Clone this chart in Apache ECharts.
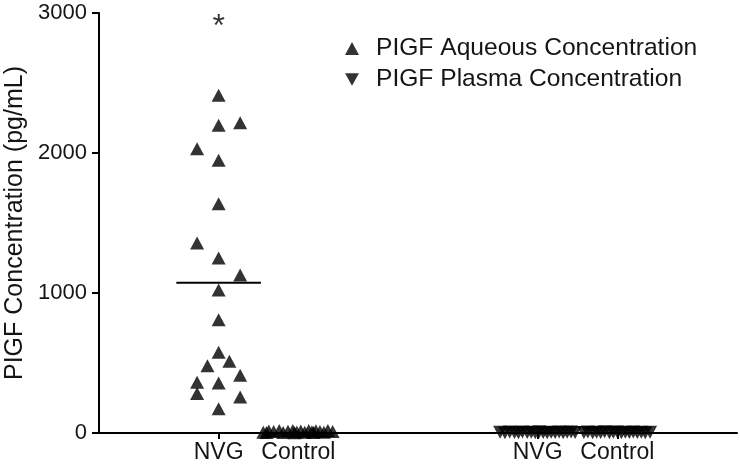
<!DOCTYPE html>
<html>
<head>
<meta charset="utf-8">
<script src="https://cdn.jsdelivr.net/npm/echarts@6/dist/echarts.min.js"></script>
<style>html,body{margin:0;padding:0;background:#fff;}#c{width:740px;height:467px;}</style>
</head>
<body>
<div id="c"></div>
<script>
// Category positions on the x value axis
var groupLabels = {0: 'NVG', 1: 'Control', 4: 'NVG', 5: 'Control'};
var groupTicks = [0, 1, 4, 5];
var yTicks = [0, 1000, 2000, 3000];

// PIGF Aqueous, NVG group (x offset, value pg/mL)
var aqNvgX = [0, 0, 0.27, -0.27, 0, 0, -0.27, 0, 0.27, 0, 0, 0, 0.135, -0.14, 0.27, -0.27, 0, -0.27, 0.27, 0];
var aqNvgY = [2412, 2198, 2216, 2031, 1948, 1638, 1357, 1250, 1129, 1021, 809, 576, 512, 481, 412, 362, 357, 283, 257, 174];
var aqNvgMean = [1074];

// PIGF Aqueous, Control group
var aqCtlX = [-0.44, -0.37, -0.31, -0.24, -0.19, -0.13, -0.07, -0.02, 0.03, 0.08, 0.13, 0.17, 0.22, 0.27, 0.32, 0.37, 0.43, -0.40, -0.05, 0.19];
var aqCtlY = [6, 15, 10, 18, 4, 12, 17, 8, 14, 5, 18, 9, 16, 11, 6, 17, 10, 3, 2, 4];

// PIGF Plasma, NVG group
var plNvgX = [-0.47, -0.41, -0.35, -0.29, -0.24, -0.19, -0.13, -0.08, -0.03, 0.02, 0.07, 0.12, 0.17, 0.22, 0.27, 0.32, 0.37, 0.42, 0.47];
var plNvgY = [5, 2, 8, 4, 1, 7, 3, 6, 2, 9, 4, 1, 6, 3, 8, 2, 5, 7, 3];

// PIGF Plasma, Control group
var plCtlX = [-0.42, -0.37, -0.31, -0.26, -0.21, -0.16, -0.10, -0.05, 0.0, 0.05, 0.10, 0.15, 0.20, 0.25, 0.30, 0.35, 0.41];
var plCtlY = [4, 8, 2, 6, 3, 9, 1, 5, 7, 2, 6, 4, 8, 3, 5, 1, 6];

// significance annotation
var starPos = [[0, 2900]];

function pts(base, xs, ys) {
  return xs.map(function (dx, i) { return [base + dx, ys[i]]; });
}

var FONT = "'Liberation Sans', Arial, sans-serif";
var downTri = 'path://M0,0 L10,0 L5,9 Z';
var INK = '#000';
var TXT = '#151515';

var chart = echarts.init(document.getElementById('c'), null, {renderer: 'canvas'});
chart.setOption({
  animation: false,
  backgroundColor: '#fff',
  grid: {left: 99, right: 3, top: 13, bottom: 34, containLabel: false, outerBoundsMode: 'none'},
  legend: {
    orient: 'vertical',
    left: 340,
    top: 31,
    itemGap: 6,
    itemWidth: 14,
    itemHeight: 13,
    textStyle: {fontFamily: FONT, fontSize: 24.6, color: TXT, padding: [0, 0, 0, 12]},
    data: [
      {name: 'PIGF Aqueous Concentration', icon: 'triangle'},
      {name: 'PIGF Plasma Concentration', icon: downTri}
    ]
  },
  xAxis: {
    type: 'value',
    min: -1.5,
    max: 6.5,
    splitLine: {show: false},
    axisLine: {onZero: false, lineStyle: {color: INK, width: 2}},
    axisTick: {show: true, customValues: groupTicks, length: 6, lineStyle: {color: INK, width: 2}},
    axisLabel: {
      customValues: groupTicks,
      formatter: function (v) { return groupLabels[Math.round(v)] || ''; },
      fontFamily: FONT, fontSize: 23, color: TXT, margin: 8
    }
  },
  yAxis: {
    type: 'value',
    min: 0,
    max: 3000,
    interval: 1000,
    name: 'PIGF Concentration (pg/mL)',
    nameLocation: 'middle',
    nameGap: 70,
    nameTextStyle: {fontFamily: FONT, fontSize: 25, color: TXT},
    splitLine: {show: false},
    axisLine: {show: true, onZero: false, lineStyle: {color: INK, width: 2}},
    axisTick: {show: true, length: 7, lineStyle: {color: INK, width: 2}},
    axisLabel: {
      customValues: yTicks,
      formatter: function (v) { return String(v); },
      fontFamily: FONT, fontSize: 22, color: TXT, margin: 12
    }
  },
  series: [
    {
      name: 'PIGF Aqueous Concentration',
      type: 'scatter',
      symbol: 'triangle',
      symbolSize: [14, 13],
      itemStyle: {color: INK},
      data: pts(0, aqNvgX, aqNvgY).concat(pts(1, aqCtlX, aqCtlY)),
      z: 3
    },
    {
      name: 'PIGF Plasma Concentration',
      type: 'scatter',
      symbol: downTri,
      symbolSize: [14, 13],
      itemStyle: {color: INK},
      data: pts(4, plNvgX, plNvgY).concat(pts(5, plCtlX, plCtlY)),
      z: 3
    },
    {
      name: 'mean',
      type: 'line',
      symbol: 'none',
      lineStyle: {color: INK, width: 2},
      data: [[-0.53, aqNvgMean[0]], [0.53, aqNvgMean[0]]],
      z: 4,
      silent: true
    },
    {
      name: 'star',
      type: 'scatter',
      symbolSize: 0,
      data: starPos,
      label: {show: true, position: 'inside', formatter: '*', fontFamily: FONT, fontSize: 32, color: INK},
      silent: true
    }
  ]
});
</script>
</body>
</html>
